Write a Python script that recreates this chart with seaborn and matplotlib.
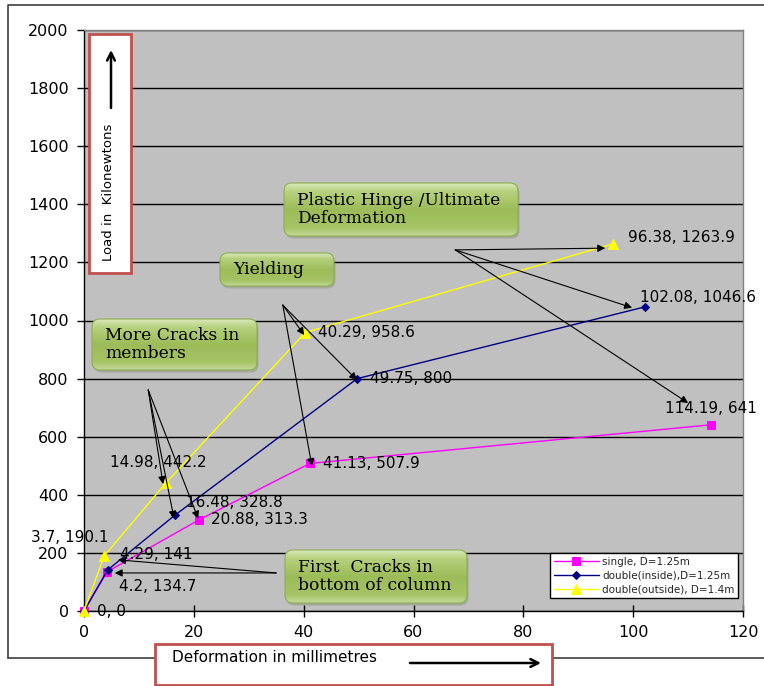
import numpy as np
import pandas as pd
import matplotlib
matplotlib.use("Agg")
import matplotlib.pyplot as plt
import seaborn as sns
from matplotlib.patches import FancyBboxPatch, Rectangle
from matplotlib.colors import LinearSegmentedColormap

# ---- data (deformation in mm, load in kN) ----
series_names = ["single, D=1.25m", "double(inside),D=1.25m", "double(outside), D=1.4m"]
defl_single = [0, 4.2, 20.88, 41.13, 114.19]
load_single = [0, 134.7, 313.3, 507.9, 641]
defl_inside = [0, 4.29, 16.48, 49.75, 102.08]
load_inside = [0, 141, 328.8, 800, 1046.6]
defl_outside = [0, 3.7, 14.98, 40.29, 96.38]
load_outside = [0, 190.1, 442.2, 958.6, 1263.9]

x_ticks = [0, 20, 40, 60, 80, 100, 120]
y_ticks = list(range(0, 2001, 200))

stage_labels = ["Plastic Hinge /Ultimate\nDeformation", "Yielding",
                "More Cracks in\nmembers", "First  Cracks in\nbottom of column"]

W, H = 764, 686
sns.set_style("white")
plt.rcParams["font.family"] = ["DejaVu Sans"]

fig = plt.figure(figsize=(W / 100, H / 100), dpi=100)
ax = fig.add_axes([84 / W, 1 - 611 / H, (743 - 84) / W, (611 - 30) / H])
ax.set_facecolor("#C0C0C0")

styles = [
    dict(color="#FF00FF", marker="s", markersize=6),
    dict(color="#000080", marker="D", markersize=4.5),
    dict(color="#FFFF00", marker="^", markersize=7.5),
]
# label offsets in pixels (dx, dy, ha) for each point
label_offsets = [
    [(13, 0, "left"), (12, 15, "left"), (12, 0, "left"), (13, 0, "left"), (0, -16, "center")],
    [None, (12, -16, "left"), (11, -13, "left"), (13, 0, "left"), (-5, -9, "left")],
    [None, (4, -18, "right"), (-8, -20, "center"), (13, 0, "left"), (15, -6, "left")],
]

all_x = [defl_single, defl_inside, defl_outside]
all_y = [load_single, load_inside, load_outside]

for name, xs, ys, st in zip(series_names, all_x, all_y, styles):
    df = pd.DataFrame({"defl": xs, "load": ys})
    sns.lineplot(data=df, x="defl", y="load", sort=False, ax=ax, label=name,
                 color=st["color"], marker=st["marker"], markersize=st["markersize"],
                 markeredgecolor=st["color"], markerfacecolor=st["color"],
                 linewidth=1, clip_on=False, zorder=3)

px2pt = 0.72
for xs, ys, offs in zip(all_x, all_y, label_offsets):
    for x, y, off in zip(xs, ys, offs):
        if off is None:
            continue
        dx, dy, ha = off
        ax.annotate(f"{x:g}, {y:g}", (x, y), xytext=(dx * px2pt, -dy * px2pt),
                    textcoords="offset points", ha=ha, va="center",
                    fontsize=11, color="black", zorder=6, annotation_clip=False)

# arrows from the stage boxes (tail, head) in data units
arrows = [
    ((67.6, 1243), (94.9, 1249)), ((67.6, 1243), (99.8, 1044)), ((67.6, 1243), (110.0, 716)),
    ((36.2, 1053), (40.1, 950)), ((36.2, 1053), (49.7, 795)), ((36.2, 1053), (41.5, 499)),
    ((11.7, 761), (14.4, 437)), ((11.7, 761), (16.4, 318)), ((11.7, 761), (20.8, 318)),
    ((35.0, 131), (5.6, 131)), ((35.0, 131), (6.2, 176)),
]
for tail, head in arrows:
    ax.annotate("", xy=head, xytext=tail,
                arrowprops=dict(arrowstyle="-|>", color="black", lw=0.8,
                                mutation_scale=11, shrinkA=0, shrinkB=0),
                zorder=5, annotation_clip=False)

ax.set_xlim(0, 120)
ax.set_ylim(0, 2000)
ax.set_xticks(x_ticks)
ax.set_yticks(y_ticks)
ax.set_xlabel("")
ax.set_ylabel("")
ax.yaxis.grid(True, color="black", linewidth=1)
ax.xaxis.grid(False)
ax.set_axisbelow(True)
for side in ["left", "bottom"]:
    ax.spines[side].set_color("black")
    ax.spines[side].set_linewidth(1)
for side in ["top", "right"]:
    ax.spines[side].set_color("#808080")
    ax.spines[side].set_linewidth(1)
ax.tick_params(axis="y", direction="out", length=5, width=1, pad=6, left=True,
               labelsize=11.5, color="black", labelcolor="black")
ax.tick_params(axis="x", direction="inout", length=8, width=1, pad=6, bottom=True,
               labelsize=11.5, color="black", labelcolor="black")

leg = ax.legend(loc="lower right", bbox_to_anchor=(0.9924, 0.0224), fontsize=7.5,
                frameon=True, fancybox=False, edgecolor="black", framealpha=1,
                borderpad=0.35, labelspacing=0.35, handlelength=4.3,
                handletextpad=0.3, borderaxespad=0)
leg.get_frame().set_linewidth(1)

# ---- overlay in pixel coordinates for boxes and frame ----
ov = fig.add_axes([0, 0, 1, 1], zorder=5)
ov.set_xlim(0, W)
ov.set_ylim(H, 0)
ov.axis("off")
ov.patch.set_alpha(0)

green = LinearSegmentedColormap.from_list(
    "grn", [(0, "#D8E8BA"), (0.15, "#B7D17F"), (0.5, "#9CBC58"), (0.85, "#A6C365"), (1, "#C2D898")])
grad = np.linspace(0, 1, 64).reshape(-1, 1)

boxes = [(284, 183, 518, 236), (220, 253, 334, 286), (92, 319, 257, 370), (285, 550, 467, 603)]
for (x0, y0, x1, y1), txt in zip(boxes, stage_labels):
    shadow = FancyBboxPatch((x0 + 1.5, y0 + 2.5), x1 - x0, y1 - y0,
                            boxstyle="round,pad=0,rounding_size=8",
                            facecolor="#6f7f5a", edgecolor="none", alpha=0.35, zorder=1)
    ov.add_patch(shadow)
    patch = FancyBboxPatch((x0, y0), x1 - x0, y1 - y0,
                           boxstyle="round,pad=0,rounding_size=8",
                           facecolor="none", edgecolor="#8DAE52", linewidth=0.8, zorder=3)
    ov.add_patch(patch)
    im = ov.imshow(grad, cmap=green, extent=(x0, x1, y1, y0), origin="upper",
                   aspect="auto", zorder=2, interpolation="bilinear")
    im.set_clip_path(patch)
    ov.text(x0 + 13, (y0 + y1) / 2, txt, ha="left", va="center",
            family="DejaVu Serif", fontsize=12.3, color="black",
            linespacing=1.1, zorder=4)

# outer chart frame
ov.plot([8, 8, W], [658, 5, 5], color="#404040", lw=1.2, zorder=1)
ov.plot([8, W], [658, 658], color="#404040", lw=1.2, zorder=1)

# y-axis title box
ov.add_patch(Rectangle((89, 34), 131 - 89, 273 - 34, facecolor="white",
                       edgecolor="#C0504D", linewidth=2, zorder=3))
ov.text(109, 192, "Load in  Kilonewtons", rotation=90, ha="center", va="center",
        fontsize=9.5, color="black", zorder=4)
ov.annotate("", xy=(111, 50), xytext=(111, 108),
            arrowprops=dict(arrowstyle="->", color="black", lw=1.8,
                            mutation_scale=14, shrinkA=0, shrinkB=0), zorder=4)

# x-axis title box
ov.add_patch(Rectangle((155, 644), 552 - 155, 685 - 644, facecolor="white",
                       edgecolor="#C0504D", linewidth=2, zorder=3))
ov.text(172, 657, "Deformation in millimetres", ha="left", va="center",
        fontsize=11, color="black", zorder=4)
ov.annotate("", xy=(541, 663), xytext=(410, 663),
            arrowprops=dict(arrowstyle="->", color="black", lw=1.8,
                            mutation_scale=14, shrinkA=0, shrinkB=0), zorder=4)

fig.savefig("out.png", dpi=100)
